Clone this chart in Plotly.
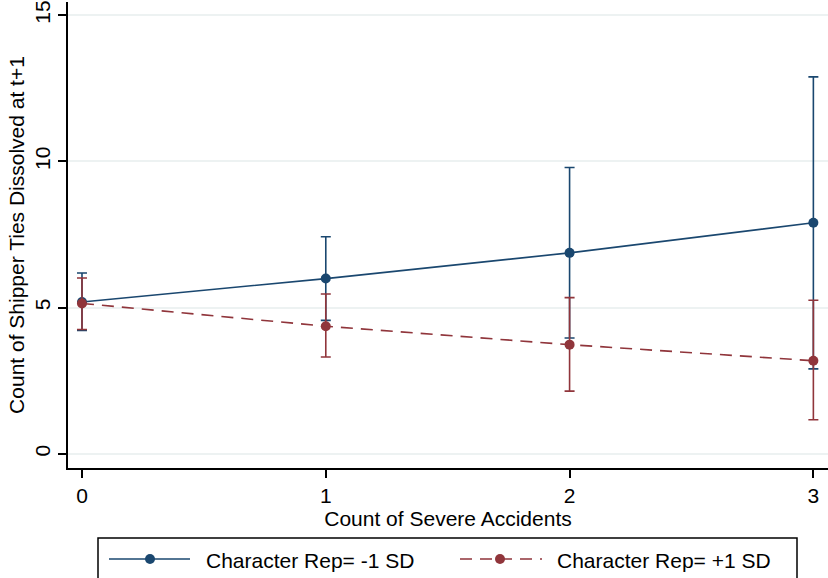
import plotly.graph_objects as go

# ---- data ----
x_vals = [0, 1, 2, 3]
x_ticks = ["0", "1", "2", "3"]
y_ticks = [0, 5, 10, 15]

low_name = "Character Rep= -1 SD"
low_mean = [5.19, 5.99, 6.87, 7.90]
low_lo = [4.22, 4.56, 3.96, 2.90]
low_hi = [6.18, 7.42, 9.79, 12.89]

high_name = "Character Rep= +1 SD"
high_mean = [5.14, 4.36, 3.73, 3.18]
high_lo = [4.25, 3.31, 2.14, 1.16]
high_hi = [6.01, 5.46, 5.34, 5.25]

BLUE = "#1a476f"
RED = "#90353b"
FONT = "Liberation Sans, Arial, sans-serif"

W, H = 828, 578
ML, MR, MT, MB = 68, 0, 2, 110
PW = W - ML - MR
PH = H - MT - MB


def px(xp):
    return (xp - ML) / PW


def py(yp):
    return (H - MB - yp) / PH


fig = go.Figure()


def add_series(name, mean, lo, hi, color, dash):
    plus = [h - m for h, m in zip(hi, mean)]
    minus = [m - l for m, l in zip(mean, lo)]
    fig.add_trace(go.Scatter(
        x=x_vals, y=mean, name=name, mode="lines+markers",
        line=dict(color=color, width=1.6, dash=dash),
        marker=dict(color=color, size=10),
        error_y=dict(type="data", symmetric=False, array=plus, arrayminus=minus,
                     color=color, thickness=1.6, width=5),
        showlegend=False,
    ))


add_series(low_name, low_mean, low_lo, low_hi, BLUE, "solid")
add_series(high_name, high_mean, high_lo, high_hi, RED, "12px,8px")

# custom legend (box, keys, labels)
shapes = [
    dict(type="rect", xref="paper", yref="paper", x0=px(98), x1=px(797), y0=py(538), y1=py(600),
         line=dict(color="black", width=1.5), fillcolor="white", layer="below"),
    dict(type="line", xref="paper", yref="paper", x0=px(109), x1=px(190), y0=py(559), y1=py(559),
         line=dict(color=BLUE, width=1.6)),
    dict(type="circle", xref="paper", yref="paper", x0=px(145), x1=px(155), y0=py(554), y1=py(564),
         line=dict(color=BLUE, width=0), fillcolor=BLUE),
    dict(type="line", xref="paper", yref="paper", x0=px(460), x1=px(542), y0=py(559), y1=py(559),
         line=dict(color=RED, width=1.6, dash="12px,8px")),
    dict(type="circle", xref="paper", yref="paper", x0=px(495), x1=px(505), y0=py(554), y1=py(564),
         line=dict(color=RED, width=0), fillcolor=RED),
]
annotations = [
    dict(text=low_name, xref="paper", yref="paper", x=px(204), y=py(560), xanchor="left", yanchor="middle",
         showarrow=False, font=dict(size=21, color="black", family=FONT)),
    dict(text=high_name, xref="paper", yref="paper", x=px(555), y=py(560), xanchor="left", yanchor="middle",
         showarrow=False, font=dict(size=21, color="black", family=FONT)),
]

fig.update_layout(
    width=W, height=H,
    margin=dict(l=ML, r=MR, t=MT, b=MB),
    paper_bgcolor="white", plot_bgcolor="white",
    font=dict(family=FONT, size=21, color="black"),
    shapes=shapes, annotations=annotations,
    showlegend=False,
    xaxis=dict(
        range=[-0.0574, 3.06], tickvals=x_vals, ticktext=x_ticks,
        showline=True, linecolor="black", linewidth=2,
        ticks="outside", ticklen=8, tickwidth=1.5, tickcolor="black",
        showgrid=False, zeroline=False,
        title=dict(text="Count of Severe Accidents", standoff=0, font=dict(size=21)),
        tickfont=dict(size=21),
    ),
    yaxis=dict(
        range=[-0.489, 15.45], tickvals=y_ticks,
        showline=True, linecolor="black", linewidth=2,
        ticks="outside", ticklen=8, tickwidth=1.5, tickcolor="black",
        showgrid=True, gridcolor="#edf2f2", gridwidth=1.5, zeroline=False,
        tickangle=-90,
        title=dict(text="Count of Shipper Ties Dissolved at t+1", standoff=0, font=dict(size=21)),
        tickfont=dict(size=21),
    ),
)

fig.write_html(
    "out.html",
    config={"displayModeBar": False},
    post_script="document.body.style.margin='0';document.body.style.overflow='hidden';",
)
